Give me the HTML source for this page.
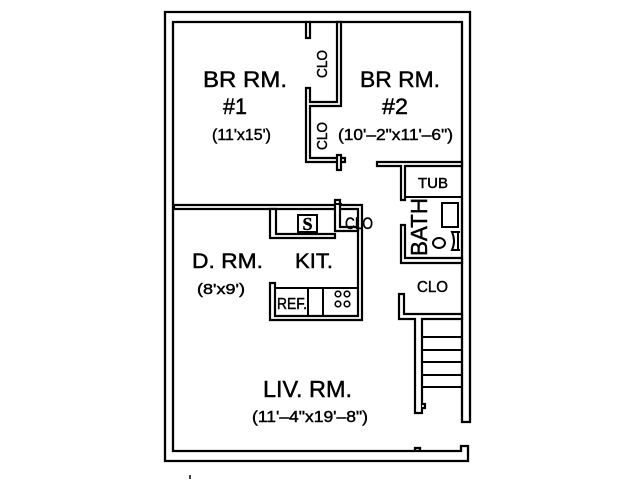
<!DOCTYPE html>
<html><head><meta charset="utf-8"><style>
html,body{margin:0;padding:0;background:#fff;}
svg{display:block;}
text{font-family:"Liberation Sans",sans-serif;fill:#000;stroke:#000;stroke-width:0.45;}
</style></head><body>
<svg width="640" height="480" viewBox="0 0 640 480" xmlns="http://www.w3.org/2000/svg">
<rect width="640" height="480" fill="#fff"/>
<g fill="none" stroke="#000" stroke-width="2.3" stroke-linejoin="miter">
<path d="M470,422 L470,12 L165,12 L165,461 L468,461 L468,446 L461,446 L461,451 L173,451 L173,22 L462,22 L462,422 Z"/>
<path d="M415,451 L415,448 L420,448 L420,451"/>
</g>
<g fill="#fff" stroke="#000" stroke-width="2.2" stroke-linejoin="miter">
<rect x="306" y="22" width="4" height="16"/>
<path d="M306,88 L310,88 L310,102 L337,102 L337,22 L341,22 L341,106 L310,106 L310,158 L345,158 L345,162 L306,162 Z"/>
<rect x="337" y="155" width="4" height="15"/>
<path d="M377,162 L462,162 L462,166 L405,166 L405,200 L401,200 L401,166 L377,166 Z"/>
<path d="M401,225 L405,225 L405,258 L462,258 L462,263 L401,263 Z"/>
<path d="M399,294 L404,294 L404,314 L462,314 L462,319 L422,319 L422,413 L415,413 L415,319 L399,319 Z"/>
<path d="M422,404 L425,404 L425,408 L422,408"/>
<path d="M174,205 L362,205 L362,320 L270,320 L270,283 L275,283 L275,316 L358,316 L358,209 L174,209 Z"/>
<path d="M270,209 L276,209 L276,234 L335,234 L335,238 L270,238 Z"/>
<path d="M335,200 L340,200 L340,227 L358,227 L358,231 L335,231 Z"/>
</g>
<g fill="none" stroke="#000" stroke-width="2">
<line x1="334" y1="204" x2="342" y2="204"/>
<line x1="405" y1="197" x2="462" y2="197"/>
<line x1="422" y1="337" x2="462" y2="337"/>
<line x1="422" y1="350" x2="462" y2="350"/>
<line x1="422" y1="362" x2="462" y2="362"/>
<line x1="422" y1="375" x2="462" y2="375"/>
<line x1="422" y1="387" x2="462" y2="387"/>
<line x1="275" y1="288" x2="358" y2="288"/>
<line x1="308" y1="288" x2="308" y2="316"/>
<line x1="323" y1="288" x2="323" y2="316"/>
<rect x="298" y="215" width="19" height="17"/>
<rect x="442" y="203" width="16" height="24"/>
<ellipse cx="439" cy="243" rx="6" ry="5"/>
<path d="M460,232 L452,232 Q456,241 452,250 L460,250"/>
<line x1="458" y1="232" x2="458" y2="250"/>
<circle cx="338" cy="294" r="2.8" stroke-width="1.6"/>
<circle cx="347" cy="294" r="2.8" stroke-width="1.6"/>
<circle cx="338" cy="304" r="2.8" stroke-width="1.6"/>
<circle cx="347" cy="304" r="2.8" stroke-width="1.6"/>
<line x1="190" y1="475" x2="190" y2="479" stroke-width="1.5"/>
</g>
<text x="203" y="87" font-size="22" textLength="84" lengthAdjust="spacingAndGlyphs">BR  RM.</text>
<text x="223" y="114" font-size="22" textLength="24" lengthAdjust="spacingAndGlyphs">#1</text>
<text x="212" y="140" font-size="16" textLength="59" lengthAdjust="spacingAndGlyphs">(11'x15')</text>
<text x="360" y="87" font-size="22" textLength="80" lengthAdjust="spacingAndGlyphs">BR  RM.</text>
<text x="382" y="114" font-size="22" textLength="26" lengthAdjust="spacingAndGlyphs">#2</text>
<text x="338" y="140" font-size="16" textLength="115" lengthAdjust="spacingAndGlyphs">(10'–2"x11'–6")</text>
<text transform="translate(327,64) rotate(-90)" text-anchor="middle" font-size="15" textLength="28" lengthAdjust="spacingAndGlyphs">CLO</text>
<text transform="translate(327,136) rotate(-90)" text-anchor="middle" font-size="15" textLength="28" lengthAdjust="spacingAndGlyphs">CLO</text>
<text x="418" y="188" font-size="15" textLength="30" lengthAdjust="spacingAndGlyphs">TUB</text>
<text transform="translate(427,227) rotate(-90)" text-anchor="middle" font-size="23" textLength="58" lengthAdjust="spacingAndGlyphs">BATH</text>
<text x="345" y="229" font-size="17" textLength="28" lengthAdjust="spacingAndGlyphs">CLO</text>
<text x="417" y="292" font-size="16" textLength="31" lengthAdjust="spacingAndGlyphs">CLO</text>
<text x="192" y="268" font-size="21" textLength="71" lengthAdjust="spacingAndGlyphs">D.  RM.</text>
<text x="197" y="294" font-size="15" textLength="48" lengthAdjust="spacingAndGlyphs">(8'x9')</text>
<text x="295" y="268" font-size="21" textLength="38" lengthAdjust="spacingAndGlyphs">KIT.</text>
<text x="277" y="309" font-size="16" textLength="30" lengthAdjust="spacingAndGlyphs">REF.</text>
<text x="307.5" y="230" font-size="18" text-anchor="middle" font-weight="bold" style="font-family:'Liberation Serif',serif">S</text>
<text x="263" y="397" font-size="23" textLength="89" lengthAdjust="spacingAndGlyphs">LIV.  RM.</text>
<text x="252" y="422" font-size="16" textLength="116" lengthAdjust="spacingAndGlyphs">(11'–4"x19'–8")</text>
</svg>
</body></html>
